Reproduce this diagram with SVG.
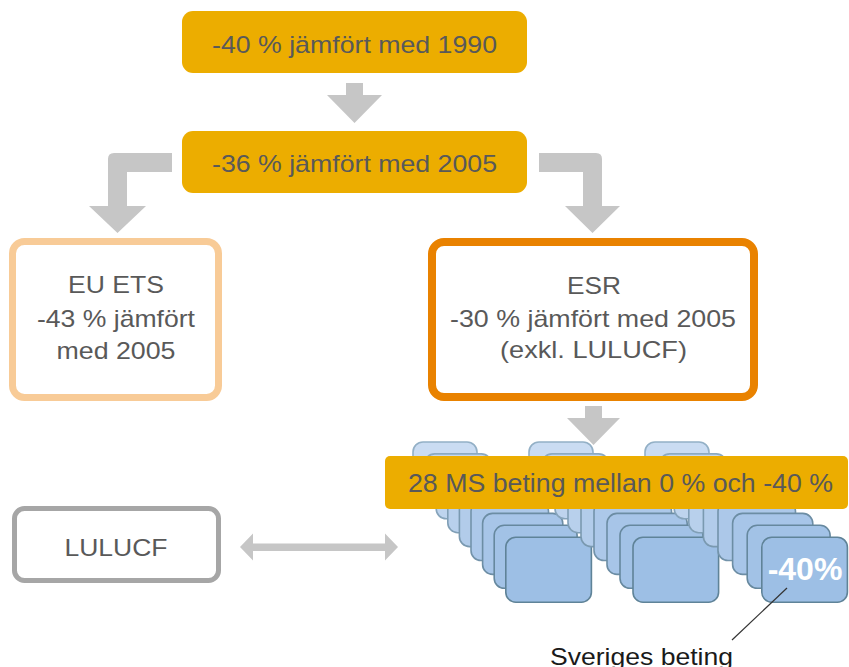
<svg xmlns="http://www.w3.org/2000/svg" width="849" height="667" viewBox="0 0 849 667">
<style>
.t{font-family:"Liberation Sans",Arial,sans-serif;font-size:24px;fill:#595959;text-anchor:middle}
.gold{fill:#ECAD00}
.arr{fill:#C6C6C6}
.b{stroke-width:1.6}
.c0{fill:#CADCF2;stroke:#93B0C6}
.c1{fill:#C4D8F0;stroke:#8CAAC1}
.c2{fill:#BED4EE;stroke:#86A4BB}
.c3{fill:#B8D0EC;stroke:#809FB6}
.c4{fill:#B2CCEA;stroke:#7A99B0}
.c5{fill:#ACC8E9;stroke:#7393AA}
.c6{fill:#A7C5E8;stroke:#6C8DA4}
.c7{fill:#A2C2E6;stroke:#66889E}
.c8{fill:#9DBFE5;stroke:#5F8398}
</style>
<g id="stack1" class="b">
<rect class="c0" x="413" y="442" width="64" height="49" rx="10"/>
<rect class="c1" x="424.6" y="453.9" width="66.7" height="51" rx="10"/>
<rect class="c2" x="436.2" y="465.8" width="69.4" height="53" rx="10"/>
<rect class="c3" x="447.8" y="477.7" width="72.1" height="55" rx="10"/>
<rect class="c4" x="459.4" y="489.6" width="74.8" height="57" rx="10"/>
<rect class="c5" x="471" y="501.5" width="77.5" height="59" rx="10"/>
<rect class="c6" x="482.6" y="513.4" width="80.2" height="61" rx="10"/>
<rect class="c7" x="494.2" y="525.3" width="82.9" height="63" rx="10"/>
<rect class="c8" x="505.8" y="537.2" width="85.6" height="65" rx="10"/>
</g>
<g id="stack2" class="b">
<rect class="c0" x="529" y="442" width="64" height="49" rx="10"/>
<rect class="c1" x="542" y="453.9" width="66.7" height="51" rx="10"/>
<rect class="c2" x="555" y="465.8" width="69.4" height="53" rx="10"/>
<rect class="c3" x="568" y="477.7" width="72.1" height="55" rx="10"/>
<rect class="c4" x="581" y="489.6" width="74.8" height="57" rx="10"/>
<rect class="c5" x="594" y="501.5" width="77.5" height="59" rx="10"/>
<rect class="c6" x="607" y="513.4" width="80.2" height="61" rx="10"/>
<rect class="c7" x="620" y="525.3" width="82.9" height="63" rx="10"/>
<rect class="c8" x="633" y="537.2" width="85.6" height="65" rx="10"/>
</g>
<g id="stack3" class="b">
<rect class="c0" x="645" y="442" width="64" height="49" rx="10"/>
<rect class="c1" x="659.6" y="453.9" width="66.7" height="51" rx="10"/>
<rect class="c2" x="674.2" y="465.8" width="69.4" height="53" rx="10"/>
<rect class="c3" x="688.8" y="477.7" width="72.1" height="55" rx="10"/>
<rect class="c4" x="703.4" y="489.6" width="74.8" height="57" rx="10"/>
<rect class="c5" x="718" y="501.5" width="77.5" height="59" rx="10"/>
<rect class="c6" x="732.6" y="513.4" width="80.2" height="61" rx="10"/>
<rect class="c7" x="747.2" y="525.3" width="82.9" height="63" rx="10"/>
<rect class="c8" x="761.8" y="537.2" width="85.6" height="65" rx="10"/>
<text x="805" y="580" font-family="Liberation Sans,Arial,sans-serif" font-size="32" font-weight="bold" fill="#FFFFFF" text-anchor="middle">-40%</text>
</g>
<g id="connectors">
<path class="arr" d="M346,83 L363,83 L363,95 L382,95 L354.5,123 L327,95 L346,95 Z"/>
<path class="arr" d="M172,153 L114,153 Q108,153 108,159 L108,206 L89,206 L117.5,233 L146,206 L127,206 L127,172 L172,172 Z"/>
<path class="arr" d="M539,153 L596,153 Q602,153 602,159 L602,206 L620,206 L592.5,233 L565,206 L583,206 L583,172 L539,172 Z"/>
<path class="arr" d="M585,406 L602,406 L602,418 L620,418 L593.5,445 L567,418 L585,418 Z"/>
<path class="arr" d="M240,547 L253,533.5 L253,543.5 L385,543.5 L385,533.5 L398,547 L385,560.5 L385,551 L253,551 L253,560.5 Z"/>
<line x1="787" y1="588" x2="732" y2="640" stroke="#333333" stroke-width="1.2"/>
</g>
<g id="box1990">
<rect class="gold" x="182" y="11" width="345" height="62" rx="11"/>
<text class="t" x="354.5" y="53" textLength="285" lengthAdjust="spacingAndGlyphs">-40 % jämfört med 1990</text>
</g>
<g id="box2005">
<rect class="gold" x="182" y="131" width="345" height="62" rx="11"/>
<text class="t" x="354.5" y="172" textLength="285" lengthAdjust="spacingAndGlyphs">-36 % jämfört med 2005</text>
</g>
<g id="euets">
<rect x="12.5" y="241.5" width="206" height="156" rx="12" fill="#FFFFFF" stroke="#F8CB97" stroke-width="7"/>
<text class="t" x="116" y="293" textLength="96" lengthAdjust="spacingAndGlyphs">EU ETS</text>
<text class="t" x="116" y="327" textLength="158" lengthAdjust="spacingAndGlyphs">-43 % jämfört</text>
<text class="t" x="116" y="359" textLength="119" lengthAdjust="spacingAndGlyphs">med 2005</text>
</g>
<g id="esr">
<rect x="432" y="242" width="322" height="155" rx="12" fill="#FFFFFF" stroke="#E98200" stroke-width="8"/>
<text class="t" x="594" y="294" textLength="54" lengthAdjust="spacingAndGlyphs">ESR</text>
<text class="t" x="593" y="327" textLength="286" lengthAdjust="spacingAndGlyphs">-30 % jämfört med 2005</text>
<text class="t" x="593.5" y="358" textLength="187" lengthAdjust="spacingAndGlyphs">(exkl. LULUCF)</text>
</g>
<g id="lulucf">
<rect x="14.5" y="508.5" width="204" height="72" rx="10" fill="#FFFFFF" stroke="#A6A6A6" stroke-width="5"/>
<text class="t" x="116" y="556" textLength="103" lengthAdjust="spacingAndGlyphs">LULUCF</text>
</g>
<g id="banner">
<rect class="gold" x="385" y="456" width="463" height="53" rx="5"/>
<text class="t" x="620.5" y="492" font-size="25" textLength="425" lengthAdjust="spacingAndGlyphs" style="font-size:25px">28 MS beting mellan 0 % och -40 %</text>
</g>
<g id="label">
<text x="641.5" y="665" font-family="Liberation Sans,Arial,sans-serif" font-size="24" fill="#1A1A1A" text-anchor="middle" textLength="183" lengthAdjust="spacingAndGlyphs">Sveriges beting</text>
</g>
</svg>
